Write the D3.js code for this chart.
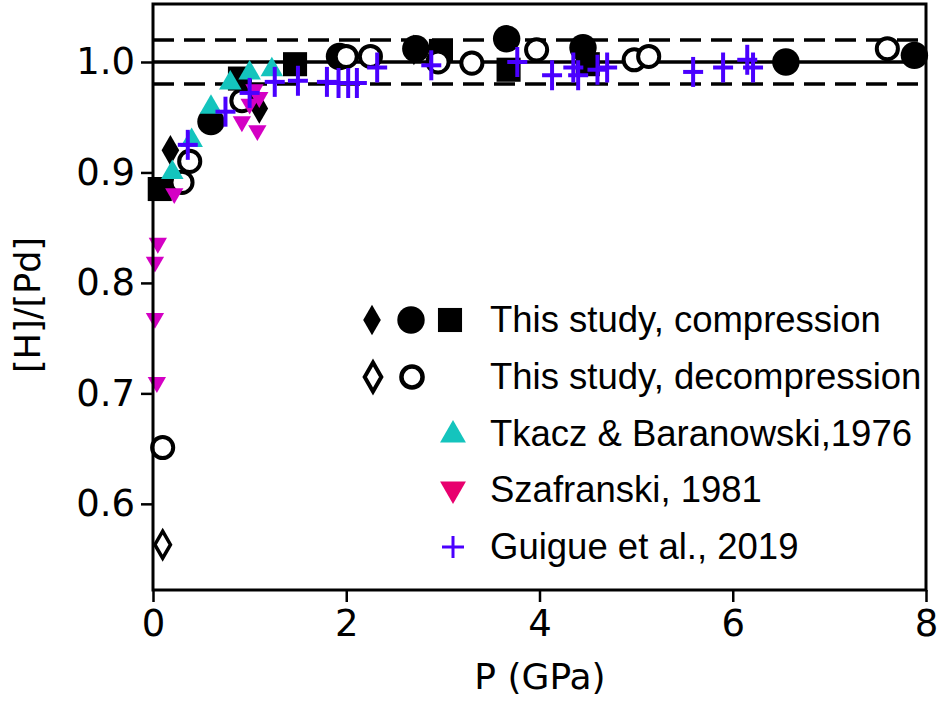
<!DOCTYPE html>
<html>
<head>
<style>
  body { margin: 0; background: #fff; }
  .tick text { font-family: "DejaVu Sans", sans-serif; }
  .legend text { font-family: "Liberation Sans", Arial, sans-serif; }
</style>
</head>
<body>
<script src="https://d3js.org/d3.v7.min.js"></script>
<script>
// this study, compression (filled black)
var compDiamondP = [0.18, 1.1, 2.7];
var compDiamondH = [0.92, 0.958, 1.011];
var compCircleP = [0.6, 1.93, 2.72, 3.66, 4.45, 6.55, 7.88];
var compCircleH = [0.946, 1.005, 1.012, 1.021, 1.013, 1.0, 1.006];
var compSquareP = [0.07, 0.9, 1.47, 2.98, 3.68, 4.5];
var compSquareH = [0.885, 0.985, 0.998, 1.01, 0.993, 0.998];
// this study, decompression (open)
var decDiamondP = [0.1];
var decDiamondH = [0.563];
var decCircleP = [0.1, 0.3, 0.38, 0.92, 2.0, 2.25, 2.95, 3.3, 3.97, 4.98, 5.13, 7.6];
var decCircleH = [0.651, 0.891, 0.91, 0.965, 1.005, 1.005, 1.0, 0.999, 1.011, 1.002, 1.005, 1.012];
// Tkacz & Baranowski 1976
var tkaczP = [0.2, 0.4, 0.6, 0.8, 1.0, 1.23];
var tkaczH = [0.9, 0.929, 0.959, 0.981, 0.99, 0.993];
// Szafranski 1981
var szafP = [0.04, 0.02, 0.02, 0.05, 0.22, 0.92, 1.0, 1.05, 1.08, 1.1];
var szafH = [0.71, 0.768, 0.819, 0.836, 0.881, 0.946, 0.962, 0.975, 0.938, 0.968];
// Guigue et al. 2019
var guigueP = [0.36, 0.75, 1.0, 1.26, 1.5, 1.8, 1.92, 2.02, 2.11, 2.32, 2.88, 3.77, 4.13, 4.35, 4.4, 4.6, 4.7, 5.59, 5.9, 6.15, 6.21];
var guigueH = [0.925, 0.955, 0.972, 0.982, 0.983, 0.982, 0.981, 0.981, 0.981, 0.995, 0.997, 1.0, 0.988, 0.995, 0.988, 0.993, 0.995, 0.991, 0.995, 1.002, 0.995];

var xTicks = [0, 2, 4, 6, 8];
var yTicks = [0.6, 0.7, 0.8, 0.9, 1.0];
var refLevels = [0.98, 1.0, 1.02];

var legendRows = [
  "This study, compression",
  "This study, decompression",
  "Tkacz & Baranowski,1976",
  "Szafranski, 1981",
  "Guigue et al., 2019"
];

var width = 940, height = 703;
var svg = d3.select("body").append("svg").attr("width", width).attr("height", height);

var x = d3.scaleLinear().domain([0, 8]).range([153, 926]);
var y = d3.scaleLinear().domain([0.522, 1.0525]).range([590, 4]);

function zip(a, b) { return a.map(function(v, i) { return [v, b[i]]; }); }

// reference lines
refLevels.forEach(function(l) {
  svg.append("line")
    .attr("x1", x(0)).attr("x2", x(8))
    .attr("y1", y(l)).attr("y2", y(l))
    .attr("stroke", "#000").attr("stroke-width", 3.5)
    .attr("stroke-dasharray", l === 1.0 ? null : "21,10");
});

var sym = function(type, size) { return d3.symbol().type(type).size(size)(); };

function drawPts(px, py, type, size, fill, stroke, sw, rot) {
  svg.append("g").selectAll("path").data(zip(px, py)).enter().append("path")
    .attr("d", sym(type, size))
    .attr("transform", function(d) { return "translate(" + x(d[0]) + "," + y(d[1]) + ")" + (rot ? " rotate(" + rot + ")" : ""); })
    .attr("fill", fill).attr("stroke", stroke).attr("stroke-width", sw);
}

drawPts(compCircleP, compCircleH, d3.symbolCircle, 590, "#000", "none", 0);
drawPts(compSquareP, compSquareH, d3.symbolSquare, 580, "#000", "none", 0);
drawPts(compDiamondP, compDiamondH, d3.symbolDiamond, 270, "#000", "none", 0);
drawPts(decCircleP, decCircleH, d3.symbolCircle, 350, "#fff", "#000", 4);
drawPts(decDiamondP, decDiamondH, d3.symbolDiamond, 210, "#fff", "#000", 3.5);
drawPts(tkaczP, tkaczH, d3.symbolTriangle, 220, "#14c4bd", "none", 0);
drawPts(szafP, szafH, d3.symbolTriangle, 145, "#d400c4", "none", 0, 180);

// plus markers
var plus = svg.append("g").selectAll("g").data(zip(guigueP, guigueH)).enter().append("g")
  .attr("transform", function(d) { return "translate(" + x(d[0]) + "," + y(d[1]) + ")"; })
  .attr("stroke", "#4a00ff").attr("stroke-width", 4);
plus.append("line").attr("x1", 0).attr("x2", 0).attr("y1", -15).attr("y2", 15);
plus.append("line").attr("x1", -10).attr("x2", 10).attr("y1", 0).attr("y2", 0);

// frame
svg.append("rect").attr("x", x(0)).attr("y", y(1.0525))
  .attr("width", x(8) - x(0)).attr("height", y(0.522) - y(1.0525))
  .attr("fill", "none").attr("stroke", "#000").attr("stroke-width", 3);

// axes
var xAxis = svg.append("g").attr("transform", "translate(0,590)")
  .call(d3.axisBottom(x).tickValues(xTicks).tickFormat(d3.format("d")).tickSize(12).tickPadding(8));
var yAxis = svg.append("g").attr("transform", "translate(153,0)")
  .call(d3.axisLeft(y).tickValues(yTicks).tickFormat(d3.format(".1f")).tickSize(12).tickPadding(6));
[xAxis, yAxis].forEach(function(a) {
  a.select(".domain").remove();
  a.selectAll(".tick line").attr("stroke", "#000").attr("stroke-width", 2.5);
  a.selectAll(".tick text").attr("fill", "#000").style("font-size", "37px");
});

svg.append("text").attr("x", 540).attr("y", 689).attr("text-anchor", "middle")
  .style("font-family", "DejaVu Sans").style("font-size", "36px").text("P (GPa)");
svg.append("text").attr("transform", "translate(40,305) rotate(-90)").attr("text-anchor", "middle")
  .style("font-family", "DejaVu Sans").style("font-size", "35px").text("[H]/[Pd]");

// legend
var lg = svg.append("g").attr("class", "legend");
var rowY = [320, 377, 434, 490, 547];
lg.append("path").attr("d", sym(d3.symbolDiamond, 270)).attr("transform", "translate(372," + rowY[0] + ")").attr("fill", "#000");
lg.append("path").attr("d", sym(d3.symbolCircle, 590)).attr("transform", "translate(411," + rowY[0] + ")").attr("fill", "#000");
lg.append("path").attr("d", sym(d3.symbolSquare, 580)).attr("transform", "translate(450," + rowY[0] + ")").attr("fill", "#000");
lg.append("path").attr("d", sym(d3.symbolDiamond, 240)).attr("transform", "translate(373," + rowY[1] + ")").attr("fill", "#fff").attr("stroke", "#000").attr("stroke-width", 4);
lg.append("path").attr("d", sym(d3.symbolCircle, 350)).attr("transform", "translate(412," + rowY[1] + ")").attr("fill", "#fff").attr("stroke", "#000").attr("stroke-width", 4.5);
lg.append("path").attr("d", sym(d3.symbolTriangle, 290)).attr("transform", "translate(453," + (rowY[2] + 1) + ")").attr("fill", "#14c4bd");
lg.append("path").attr("d", sym(d3.symbolTriangle, 290)).attr("transform", "translate(453," + (rowY[3] - 1) + ") rotate(180)").attr("fill", "#e8006e");
var lp = lg.append("g").attr("transform", "translate(453," + rowY[4] + ")").attr("stroke", "#4a00ff").attr("stroke-width", 3);
lp.append("line").attr("x1", 0).attr("x2", 0).attr("y1", -11).attr("y2", 11);
lp.append("line").attr("x1", -11).attr("x2", 11).attr("y1", 0).attr("y2", 0);
lg.selectAll("text.lab").data(legendRows).enter().append("text").attr("class", "lab")
  .attr("x", 490).attr("y", function(d, i) { return rowY[i] + 12; })
  .style("font-size", "36.5px").attr("fill", "#000").text(function(d) { return d; });
</script>
</body>
</html>
